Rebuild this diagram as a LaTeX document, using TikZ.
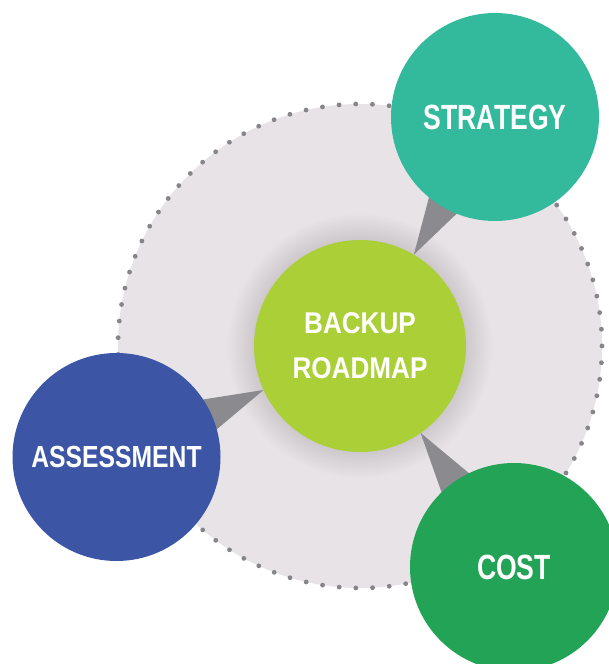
\documentclass[tikz,border=0pt]{standalone}
\usepackage{fontspec}
\setmainfont{Liberation Sans}
\usepackage{graphicx}
\usetikzlibrary{calc}
\pgfdeclarelayer{back}
\pgfdeclarelayer{mid}
\pgfsetlayers{back,mid,main}
\definecolor{ringc}{HTML}{E7E3E6}
\definecolor{dotc}{HTML}{85858A}
\definecolor{wedgec}{HTML}{8A8A8F}
\definecolor{hubc}{HTML}{AACF37}
\definecolor{stratc}{HTML}{33BA9C}
\definecolor{assessc}{HTML}{3C56A5}
\definecolor{costc}{HTML}{22A355}
\newcommand\cnd[2]{\scalebox{#1}[1]{#2}}
\begin{document}
\begin{tikzpicture}[x=1pt,y=-1pt,
  hub/.style={circle, fill=hubc, minimum size=212pt, inner sep=0pt, text=white, align=center,
    font=\fontsize{30}{45}\selectfont\bfseries},
  sat/.style={circle, minimum size=208pt, inner sep=0pt, text=white},
  wedge/.style={fill=wedgec},
  dotring/.style={draw=dotc, line width=4.8pt, line cap=round, dash pattern=on 0pt off 16.71pt}]
\useasboundingbox (0,0) rectangle (608,664);

\node[hub] (c) at (360,346) {\cnd{0.87}{BACKUP}\\\cnd{0.87}{ROADMAP}};
\node[sat, fill=stratc, font=\fontsize{35}{40}\selectfont\bfseries] (s) at (495,117) {\cnd{0.76}{STRATEGY}};
\node[sat, fill=assessc, font=\fontsize{30.5}{36}\selectfont\bfseries] (a) at (116.5,457) {\cnd{0.81}{ASSESSMENT}};
\node[sat, fill=costc, font=\fontsize{35}{40}\selectfont\bfseries] (k) at (514,567) {\cnd{0.76}{COST}};

\begin{pgfonlayer}{back}
  \fill[ringc] (c.center) circle[radius=242];
  \foreach \r in {132,130,...,108} {
    \fill[black, opacity=0.006] (c.center) circle[radius=\r];
  }
  \draw[dotring] (c.center) circle[radius=242];
\end{pgfonlayer}

\begin{pgfonlayer}{mid}
  \foreach \t in {s,a,k} {
    \fill[wedge] ($(c.center)!106pt!(\t.center)$) -- ($(\t.center)!45pt!90:(c.center)$) -- ($(\t.center)!45pt!-90:(c.center)$) -- cycle;
  }
\end{pgfonlayer}
\end{tikzpicture}
\end{document}
